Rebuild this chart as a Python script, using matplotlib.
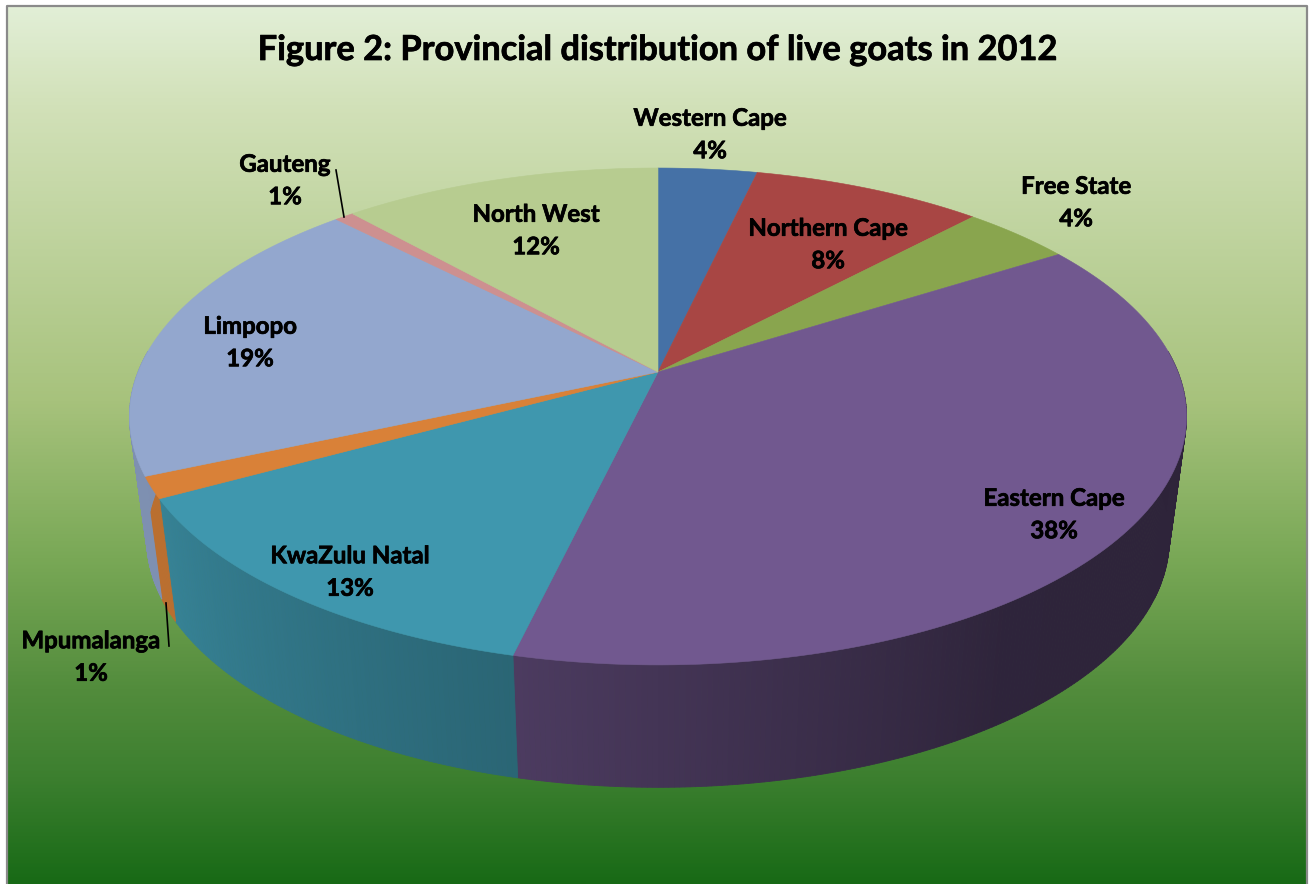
import numpy as np
import matplotlib
matplotlib.use("Agg")
import matplotlib.pyplot as plt
import matplotlib.patheffects as pe
from matplotlib.colors import LinearSegmentedColormap, to_rgb

provinces = ["Western Cape", "Northern Cape", "Free State", "Eastern Cape", "KwaZulu Natal",
             "Mpumalanga", "Limpopo", "Gauteng", "North West"]
shares = [3.6, 8.4, 4.0, 37.7, 13.3, 1.4, 19.3, 0.7, 11.6]
colors = ["#4571a6", "#a84644", "#89a54e", "#71588f", "#3f97ae",
          "#d98138", "#93a7ce", "#cd9090", "#b7cc90"]
title = "Figure 2: Provincial distribution of live goats in 2012"

# label centres in pixels
label_x = [710, 828, 1076, 1054, 350, 91, 250, 285, 536]
label_y = [134.5, 244.5, 202.5, 514.5, 572, 657, 342.5, 180.5, 230.5]

W, H = 1309, 884

# perspective of the disc: k tilts the far edge away from the viewer
k = 0.179
top_disc = (658, 372, 520, 240.5)
bottom_disc = (658, 495, 503, 240)


def project(theta, disc):
    cx, cy, a, b = disc
    u, v = np.sin(theta), np.cos(theta)
    w = 1 + k * v
    return cx + a * u / w, cy - b * v / w


def wall_shade(deg):
    return np.interp(deg, [90, 145, 175, 193, 241, 270], [0.40, 0.41, 0.57, 0.67, 0.86, 0.86])


fig = plt.figure(figsize=(W / 100, H / 100), dpi=100, facecolor="white")
ax = fig.add_axes([0, 0, 1, 1])
ax.set_xlim(0, W)
ax.set_ylim(H, 0)
ax.axis("off")

# background panel
bg = LinearSegmentedColormap.from_list("bg", [
    (0.0, "#e2efd7"), (0.11, "#d2e1b9"), (0.45, "#a7c27c"),
    (0.63, "#79a856"), (0.78, "#528c3c"), (0.88, "#3c7f2f"), (1.0, "#186a16")])
grad = np.linspace(0, 1, 512).reshape(-1, 1)
ax.imshow(grad, cmap=bg, extent=(8, 1307, H, 6), aspect="auto", zorder=0)
ax.set_xlim(0, W)
ax.set_ylim(H, 0)
ax.plot([7, 7, 1307, 1307], [H, 5.5, 5.5, H], color="#8a8a8a", lw=1.6, zorder=1)

edges = np.cumsum([0] + shares) / sum(shares) * 360

# side wall, only the part facing the viewer
for i, color in enumerate(colors):
    start, end = edges[i], edges[i + 1]
    lo, hi = max(start, 85), min(end, 275)
    if hi <= lo:
        continue
    steps = np.arange(lo, hi, 0.5).tolist() + [hi]
    for d0, d1 in zip(steps[:-1], steps[1:]):
        t0, t1 = np.radians(d0), np.radians(d1)
        x0, y0 = project(t0, top_disc)
        x1, y1 = project(t1, top_disc)
        x2, y2 = project(t1, bottom_disc)
        x3, y3 = project(t0, bottom_disc)
        shade = wall_shade((d0 + d1) / 2)
        rgb = tuple(c * shade for c in to_rgb(color))
        ax.fill([x0, x1, x2, x3], [y0, y1, y2, y3], color=rgb, lw=0.6, zorder=2)

# top face
for i, color in enumerate(colors):
    t = np.radians(np.linspace(edges[i], edges[i + 1], 120))
    xs, ys = project(t, top_disc)
    ax.fill(np.r_[top_disc[0], xs], np.r_[top_disc[1], ys], color=color, lw=0.4, zorder=3)

# Lato bold runs a little light, thicken it with a thin stroke
thick = [pe.withStroke(linewidth=0.5, foreground="black")]

ax.text(658, 50, title, ha="center", va="center", fontsize=24.8, fontweight="bold",
        family="Lato", color="black", zorder=5, path_effects=thick)

for name, share, x, y in zip(provinces, shares, label_x, label_y):
    ax.text(x, y, f"{name}\n{round(share)}%", ha="center", va="center", fontsize=17.3,
            fontweight="bold", family="Lato", color="black", linespacing=1.5, zorder=5,
            path_effects=thick)

# leader lines for the two thin slices
ax.plot([336, 344], [170, 217], color="black", lw=1.2, zorder=4)
ax.plot([166, 169], [603, 646], color="black", lw=1.2, zorder=4)

fig.savefig("out.png", dpi=100)
